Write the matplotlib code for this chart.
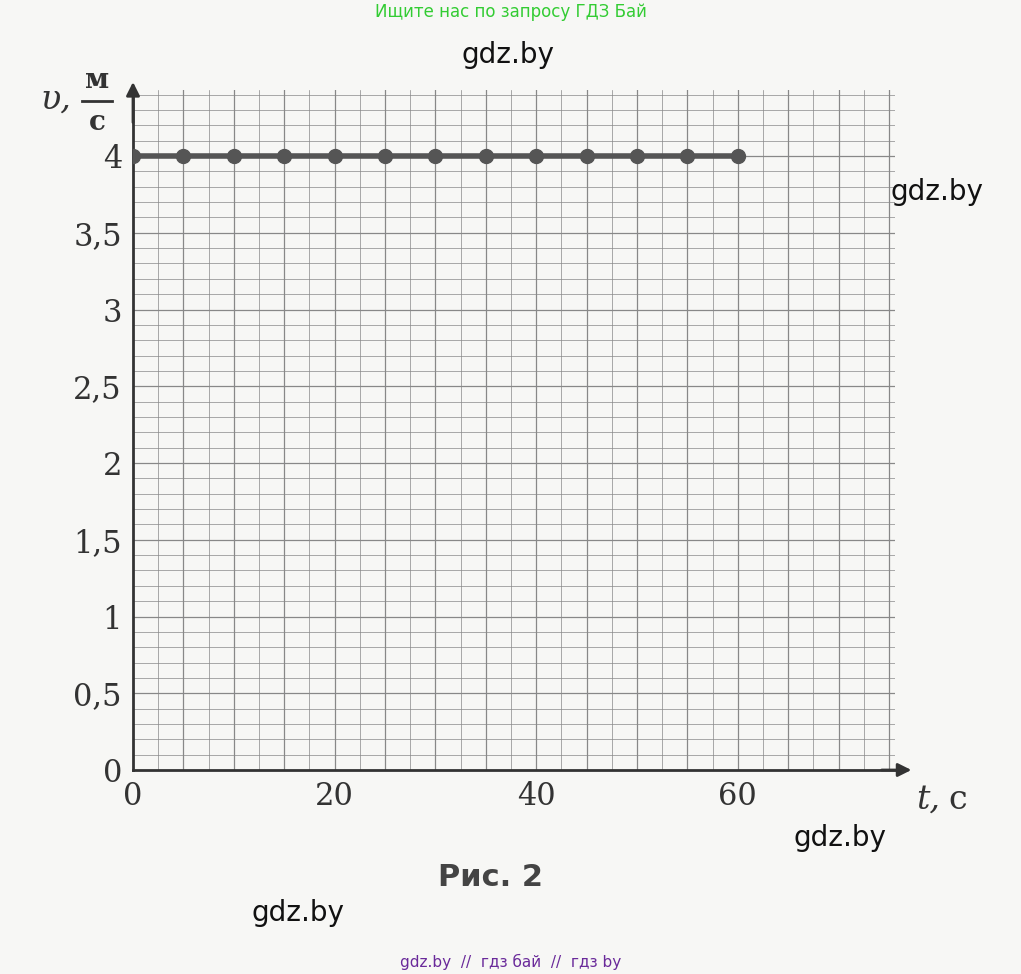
import matplotlib
matplotlib.use("Agg")
import matplotlib.pyplot as plt
import numpy as np

t = [0, 5, 10, 15, 20, 25, 30, 35, 40, 45, 50, 55, 60]
v = [4, 4, 4, 4, 4, 4, 4, 4, 4, 4, 4, 4, 4]
xticks = [0, 20, 40, 60]
yticks = [0, 0.5, 1, 1.5, 2, 2.5, 3, 3.5, 4]
ylabels = ["0", "0,5", "1", "1,5", "2", "2,5", "3", "3,5", "4"]

W, H = 1021, 974
fig = plt.figure(figsize=(W/100, H/100), dpi=100, facecolor="#f7f7f5")
ax = fig.add_axes([133/W, 1-770/H, (895-133)/W, (770-90)/H])
ax.set_facecolor("#f7f7f5")
ax.set_xlim(0, 75.6)
ax.set_ylim(0, 4.43)

gc = "#888888"
for x in np.arange(2.5, 75.6, 2.5):
    ax.axvline(x, color=gc, lw=0.9 if x % 5 == 0 else 0.5, zorder=1)
for y in np.arange(0.1, 4.43, 0.1):
    major = abs(y*2 - round(y*2)) < 1e-6
    ax.axhline(y, color=gc, lw=0.9 if major else 0.5, zorder=1)

ax.plot(t, v, color="#555555", lw=4, marker="o", ms=10, zorder=3)

for s in ["top", "right"]:
    ax.spines[s].set_visible(False)
for s in ["left", "bottom"]:
    ax.spines[s].set_linewidth(2)
    ax.spines[s].set_color("#333333")
ax.set_xticks(xticks)
ax.set_xticklabels([str(x) for x in xticks], fontsize=22, family="DejaVu Serif", color="#333333")
ax.set_yticks(yticks)
ax.set_yticklabels(ylabels, fontsize=22, family="DejaVu Serif", color="#333333")
ax.tick_params(length=0, pad=8)

ax.annotate("", xy=(0, 4.5), xytext=(0, 4.2), xycoords="data", annotation_clip=False,
            arrowprops=dict(arrowstyle="-|>", color="#333333", lw=2, mutation_scale=20))
ax.annotate("", xy=(77.5, 0), xytext=(74, 0), annotation_clip=False,
            arrowprops=dict(arrowstyle="-|>", color="#333333", lw=2, mutation_scale=20))

tc = "#333333"
fig.text(40/W, 1-100/H, "υ,", fontsize=24, style="italic", family="DejaVu Serif", color=tc, va="center")
fig.text(97/W, 1-80/H, "м", fontsize=20, family="DejaVu Serif", color=tc, ha="center", va="center", weight="bold")
fig.text(97/W, 1-122/H, "с", fontsize=20, family="DejaVu Serif", color=tc, ha="center", va="center", weight="bold")
fig.add_artist(plt.Line2D([82/W, 112/W], [1-101/H, 1-101/H], color=tc, lw=2))
fig.text(940/W, 1-800/H, "t,", fontsize=24, style="italic", family="DejaVu Serif", color=tc, ha="right", va="center")
fig.text(958/W, 1-800/H, "с", fontsize=24, family="DejaVu Serif", color=tc, ha="center", va="center")
fig.text(490/W, 1-878/H, "Рис. 2", fontsize=22, weight="bold", color="#444444", ha="center", va="center")

fig.text(W/2/W, 1-12/H, "Ищите нас по запросу ГДЗ Бай", fontsize=12, color="#33cc33", ha="center", va="center")
for (x, y) in [(508, 55), (937, 192), (840, 838), (298, 913)]:
    fig.text(x/W, 1-y/H, "gdz.by", fontsize=20, color="#111111", ha="center", va="center")
fig.text(W/2/W, 1-962/H, "gdz.by  //  гдз бай  //  гдз by", fontsize=11, color="#6a2a9a", ha="center", va="center")

fig.savefig("out.png", dpi=100, facecolor=fig.get_facecolor())
